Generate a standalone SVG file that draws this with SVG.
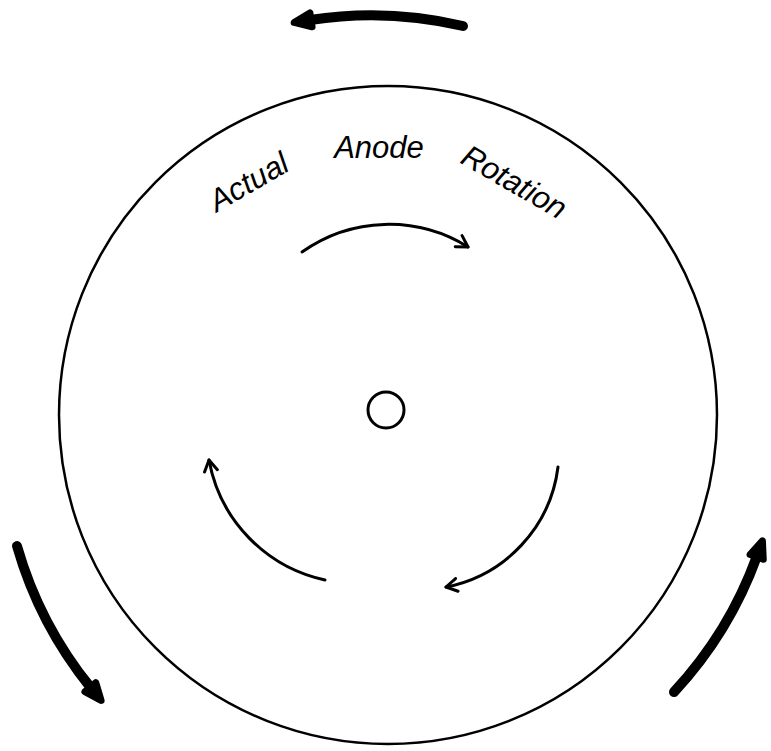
<svg xmlns="http://www.w3.org/2000/svg" width="771" height="751" viewBox="0 0 771 751">
<style>
.lbl{font-family:"Liberation Sans",Arial,sans-serif;font-style:italic;font-size:31px;fill:#000;text-anchor:middle}
.thin{fill:none;stroke:#000;stroke-width:3;stroke-linecap:round}
.thick{fill:none;stroke:#000;stroke-width:10;stroke-linecap:round}
</style>
<defs>
<marker id="chev" markerUnits="userSpaceOnUse" viewBox="0 0 16 16" refX="13" refY="8" markerWidth="16" markerHeight="16" orient="auto">
<path d="M2,1.5 L13,8 L2,14.5" fill="none" stroke="#000" stroke-width="3" stroke-linecap="round" stroke-linejoin="round"/>
</marker>
<marker id="fat" markerUnits="userSpaceOnUse" viewBox="0 0 30 26" refX="6" refY="13" markerWidth="30" markerHeight="26" orient="auto">
<path d="M5,6 L22,13 L5,20 Z" fill="#000" stroke="#000" stroke-width="7" stroke-linejoin="round"/>
</marker>
</defs>
<g id="anode">
<circle cx="388" cy="415" r="329" fill="none" stroke="#000" stroke-width="2.5"/>
</g>
<g id="hub">
<circle cx="386" cy="410" r="18" fill="none" stroke="#000" stroke-width="3"/>
</g>
<g id="labels">
<text class="lbl" transform="translate(254,191) rotate(-30)">Actual</text>
<text class="lbl" x="379" y="158">Anode</text>
<text class="lbl" transform="translate(509,191) rotate(30)">Rotation</text>
</g>
<g id="connectors">
<path class="thin" d="M302,252 A150,150 0 0 1 468,247" marker-end="url(#chev)"/>
<path class="thin" d="M558,467 A140,140 0 0 1 446,587" marker-end="url(#chev)"/>
<path class="thin" d="M325,580 A150,150 0 0 1 209,460" marker-end="url(#chev)"/>
<path class="thick" d="M463,26 A398,398 0 0 0 310,20" marker-end="url(#fat)"/>
<path class="thick" d="M17,546 A398,398 0 0 0 91,688" marker-end="url(#fat)"/>
<path class="thick" d="M674,692 A398,398 0 0 0 757,556" marker-end="url(#fat)"/>
</g>
</svg>
